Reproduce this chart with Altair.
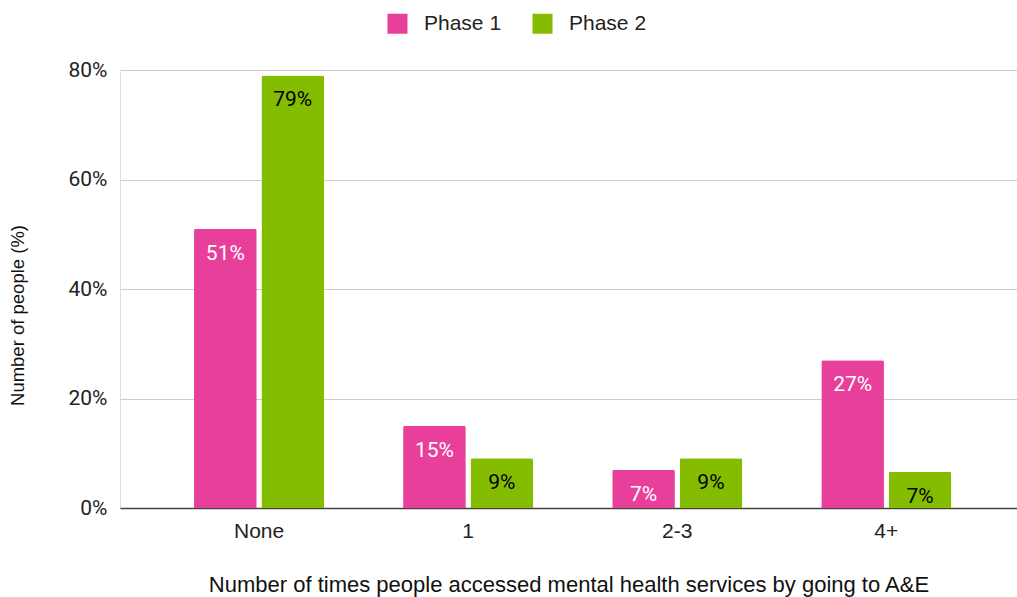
import altair as alt
import pandas as pd

categories = ["None", "1", "2-3", "4+"]
phase1 = [51, 15, 7, 27]
phase2 = [79, 9.1, 9.1, 6.6]
phases = ["Phase 1", "Phase 2"]
colors = ["#E8409A", "#84BD00"]

rows = []
for c, a, b in zip(categories, phase1, phase2):
    rows.append({"cat": c, "phase": "Phase 1", "value": a, "label": f"{round(a)}%"})
    rows.append({"cat": c, "phase": "Phase 2", "value": b, "label": f"{round(b)}%"})
df = pd.DataFrame(rows)

xscale = alt.Scale(paddingInner=0.378, paddingOuter=0.334, align=0.53)
xenc = alt.X("cat:N", sort=categories, scale=xscale,
             axis=alt.Axis(title="Number of times people accessed mental health services by going to A&E",
                           labelAngle=0, labelFontSize=21, labelFont="Liberation Sans",
                           labelColor="#222222", labelPadding=12, ticks=False,
                           domainColor="#444444", domainWidth=1.5,
                           titleFontSize=22, titleFont="Liberation Sans", titleFontWeight="normal",
                           titleColor="#111111", titlePadding=33))
xoff = alt.XOffset("phase:N", sort=phases, scale=alt.Scale(paddingInner=0.07))
yenc = alt.Y("value:Q", scale=alt.Scale(domain=[0, 80]),
             axis=alt.Axis(title="Number of people (%)", values=[0, 20, 40, 60, 80],
                           labelExpr="datum.value + '%'", labelFontSize=21, labelFont="Roboto",
                           labelColor="#222222", labelPadding=13, ticks=False, domain=False,
                           gridColor="#CCCCCC", gridWidth=1.2,
                           titleFontSize=18.5, titleFont="Liberation Sans", titleFontWeight="normal",
                           titleColor="#111111", titleX=-93, titleY=245))

bars = alt.Chart(df).mark_bar(cornerRadiusTopLeft=2, cornerRadiusTopRight=2).encode(
    x=xenc, xOffset=xoff, y=yenc,
    color=alt.Color("phase:N", sort=phases, scale=alt.Scale(domain=phases, range=colors),
                    legend=alt.Legend(title=None, orient="none", legendX=267, legendY=-57,
                                      direction="horizontal", symbolType="square",
                                      symbolSize=400, symbolStrokeWidth=0,
                                      labelFontSize=21, labelFont="Liberation Sans",
                                      labelColor="#222222", columnPadding=30, labelOffset=16)),
)

text = alt.Chart(df).mark_text(baseline="middle", dy=25, fontSize=21, font="Roboto").encode(
    x=alt.X("cat:N", sort=categories, scale=xscale), xOffset=alt.XOffset("phase:N", sort=phases),
    y="value:Q",
    text="label:N",
    color=alt.condition(alt.datum.phase == "Phase 1", alt.value("white"), alt.value("black")),
)

chart = alt.layer(bars, text).properties(
    width=897, height=438,
    autosize=alt.AutoSizeParams(type="none"),
    padding={"left": 120, "top": 70, "right": 0, "bottom": 89},
).configure_view(stroke=None).configure(background="white")

chart.save("out.html", embed_options={"renderer": "svg", "actions": False})
